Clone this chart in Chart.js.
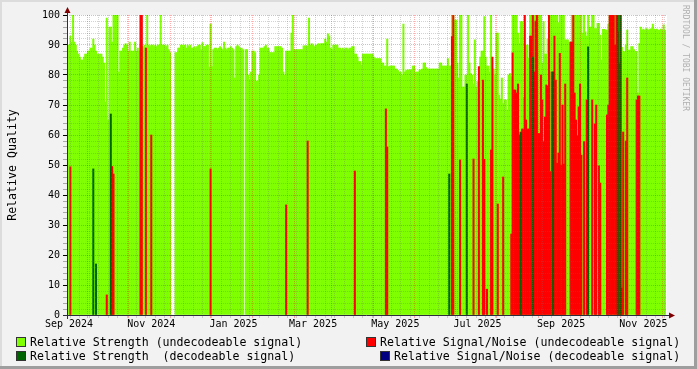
<!DOCTYPE html>
<html>
<head>
<meta charset="utf-8">
<script src="https://cdn.jsdelivr.net/npm/chart.js@4.4.1/dist/chart.umd.min.js"></script>
<style>
html, body { margin: 0; padding: 0; background: #f2f2f2; }
#wrap { position: relative; width: 697px; height: 369px; background: #f2f2f2; overflow: hidden;
  font-family: "DejaVu Sans Mono", monospace; color: #000; }
#wrap canvas { position: absolute; left: 0; top: 0; }
.edge { position: absolute; }
.lg { position: absolute; font-size: 11.6px; line-height: 14px; white-space: pre; }
.sw { position: absolute; width: 8px; height: 8px; border: 1px solid #333; }
#ytitle { position: absolute; left: -48px; top: 158px; width: 120px; height: 14px; font-size: 11.6px;
  line-height: 14px; text-align: center; transform: rotate(-90deg); }
#mark { position: absolute; left: 690px; top: 5px; font-size: 8px; line-height: 9px; color: #b0b0b0;
  white-space: pre; transform-origin: left top; transform: rotate(90deg); }
</style>
</head>
<body>
<div id="wrap">
  <canvas id="mycanvas" width="697" height="369"></canvas>
  <div class="edge" style="left:0;top:0;width:697px;height:2px;background:#dcdcdc"></div>
  <div class="edge" style="left:0;top:0;width:2px;height:369px;background:#dcdcdc"></div>
  <div class="edge" style="right:0;top:0;width:3px;height:369px;background:#9e9e9e"></div>
  <div class="edge" style="left:0;bottom:0;width:697px;height:3px;background:#9e9e9e"></div>
  <div id="ytitle">Relative Quality</div>
  <div id="mark">RRDTOOL / TOBI OETIKER</div>
  <div id="legend"></div>
</div>
<script>
// one value per day, first bar = 31 Aug 2024
var strength = [
  90,90,93,91,100,91,90,88,87,86,
  85,85,86,87,87,88,88,89,89,92,
  90,88,87,87,87,87,86,84,71,99,
  65,96,96,91,100,100,100,100,81,88,
  88,89,90,90.5,90,88,91,88,88,88,
  91,88,89,88,90,89.5,89.5,90,89,100,
  90,89.5,90,90,89.5,90,89.5,90,90,100,
  90,90,90,89.5,90,88.5,87.5,null,null,null,
  87.5,87.5,89,89,90,90,89.5,90,89,90,
  89.5,90,89,89,89.5,89,89.5,90,90,88.5,
  90.8,89.5,89.5,90,90,82.6,97,82.8,88.5,89,
  89,88.5,89,89.5,89,88.5,91,89,88.5,89,
  89,89.5,89,88.5,79,89.5,90,89.5,89,89,
  88.5,null,88.5,88.5,80,78.3,81,88,88,87.5,
  78,78,80,89,89,89,89.5,90,89,89,
  87.5,87.5,87.5,87.5,89.5,89.5,89.5,89.5,89.5,89,
  81,80,88,88,88,88,94,100,88.5,88.5,
  88.5,88.5,88.5,88.5,88.5,89.7,89.7,89.7,89.7,99,
  90,90.5,90,89.5,90,90,90.5,90,90.5,90.5,
  90.5,92,91,93.7,93,89,88.5,90,90,90,
  90,89,89,88.5,89,88.5,89,89,88.5,89,
  89,89.5,89.5,87,87,86,84.5,84.5,83.3,87,
  87,87,87,87,87,87,87,86,85.5,85.5,
  85.5,85.5,85.5,84,84,83,83,92,82.8,83,
  83,83,83,82,82,81.5,81,81,80,97,
  81,81.5,81.7,81.7,81.7,81.7,83,83,81,81,
  81,81.7,81.7,82,84,84,82.5,82,82,82,
  82,82,82,82,82,82,84,84,83,83,
  83,83,85.5,83,83,100,100,98.3,98.3,84,
  79,100,100,76,76,80,80,100,84,80.5,
  80,77,91.7,76,77.8,78,86,88,88,99.5,
  86,83,83,81,100,82,82,80,94,94,
  73.3,72,79,70.5,71.7,71.7,68.3,80,80.5,79.4,
  100,100,100,100,94,90.5,97.8,97.8,72.5,100,
  90,90,85.6,100,100,100,100,100,100,100,
  100,100,84,97.8,87,87,92,100,100,100,
  100,100,100,100,97.5,100,100,100,100,91.7,
  91.7,91.7,91,91,100,100,100,100,100,100,
  100,100,94,100,94.4,93,100,96,96,100,
  100,95.5,95.5,97.2,97.2,93.3,85,95.2,95.2,95,
  95,97,100,100,100,100,100,100,100,100,
  100,89.2,87.8,87.8,90,95,88.3,88.3,89.5,89.5,
  88.5,87.8,87.8,74,90.5,96,95,95.3,95,95.5,
  95.3,95,95.3,95.5,97,95.3,95,95.3,95,95,
  95.3,95,96.7,95,null
];

// signal/noise (undecodeable): day index -> value
var snrDays = [2,29,33,34,54,55,58,62,106,162,178,213,236,237,285,286,291,301,305,308,309,311,314,315,319,323,
  329,330,331,332,333,334,335,336,337,338,339,340,341,342,343,344,345,346,347,348,349,350,351,352,353,354,355,356,
  357,358,359,360,361,362,363,364,365,366,367,368,369,373,374,375,376,377,378,379,380,381,383,385,389,391,392,
  394,395,400,401,402,403,404,405,406,407,408,409,410,411,412,414,415,422,423,424];
var snrValues = [49.4,6.7,49.5,47,100,100,89,60,48.7,36.7,58,48,68.7,56,92.8,100,51.7,52,82.8,78.3,51.9,8.6,55,86,37,46,
  27,87.4,75,75,74,77,60,61,62,62,100,65,62,62,93,93,100,81,98,100,60.5,60.5,80,71.7,57.8,66,76.7,76.3,
  100,47.8,81,81,93,78.3,50.6,54,87.2,50,70,50.3,77,91,91,100,74,65,59.7,69.4,77,53.3,57.8,71.7,71.7,63.7,70,
  49.7,44,66.7,70,100,100,100,100,90,100,94.4,84,100,9,61,58,79,71.7,73,73];

// strength (decodeable)
var decDays = [19,21,32,283,296,336,345,360,386,408,410];
var decValues = [48.7,17,67,47,77,60.8,86,81,89.4,100,100];

// signal/noise (decodeable) - nothing visible
var decSnrDays = [];
var decSnrValues = [];

var tickDays = [1,62,123,182,243,304,366,427];
var tickLabels = ['Sep 2024','Nov 2024','Jan 2025','Mar 2025','May 2025','Jul 2025','Sep 2025','Nov 2025'];
var majorGridDays = [15,45,76,106,137,168,196,227,257,288,318,349,380,410,441];

var seriesNames = ['Relative Strength (undecodeable signal)', 'Relative Signal/Noise (undecodeable signal)',
  'Relative Strength  (decodeable signal)', 'Relative Signal/Noise (decodeable signal)'];
var seriesColors = ['#7fff00', '#ff0000', '#006400', '#000080'];

function spread(days, values) {
  var out = [];
  for (var i = 0; i < strength.length; i++) out.push(null);
  for (var k = 0; k < days.length; k++) out[days[k]] = values[k];
  return out;
}

var labels = [];
for (var i = 0; i < strength.length; i++) labels.push(String(i));

var MAJOR = 'rgba(255,0,0,0.32)';
var MINOR = 'rgba(110,110,110,0.3)';

function xGridColor(ctx) {
  if (majorGridDays.indexOf(ctx.index) >= 0) return MAJOR;
  if ((ctx.index - 2) % 7 === 0) return MINOR;
  return 'rgba(0,0,0,0)';
}

var frame = {
  id: 'frame',
  beforeDraw: function(chart) {
    var a = chart.chartArea, c = chart.ctx;
    c.save();
    c.fillStyle = '#ffffff';
    c.fillRect(a.left, a.top, a.right - a.left, a.bottom - a.top);
    c.restore();
  },
  afterDraw: function(chart) {
    var a = chart.chartArea, c = chart.ctx;
    c.save();
    c.strokeStyle = '#2c2c3c';
    c.lineWidth = 1;
    c.beginPath();
    c.moveTo(a.left - 4, a.bottom + 0.5);
    c.lineTo(a.right + 3, a.bottom + 0.5);
    c.moveTo(a.left + 0.5, a.bottom + 4);
    c.lineTo(a.left + 0.5, a.top - 3);
    c.stroke();
    c.fillStyle = '#7f0000';
    c.beginPath();
    c.moveTo(a.right + 2, a.bottom - 2.5);
    c.lineTo(a.right + 8, a.bottom + 0.5);
    c.lineTo(a.right + 2, a.bottom + 3.5);
    c.closePath();
    c.fill();
    c.beginPath();
    c.moveTo(a.left - 2.5, a.top - 2);
    c.lineTo(a.left + 0.5, a.top - 8);
    c.lineTo(a.left + 3.5, a.top - 2);
    c.closePath();
    c.fill();
    c.restore();
  }
};

Chart.defaults.font.family = '"DejaVu Sans Mono", monospace';
Chart.defaults.color = '#000';

var allData = [strength, spread(snrDays, snrValues), spread(decDays, decValues), spread(decSnrDays, decSnrValues)];
var datasets = [];
for (var s = 0; s < 4; s++) {
  datasets.push({
    label: seriesNames[s],
    data: allData[s],
    backgroundColor: seriesColors[s],
    borderWidth: 0,
    barPercentage: 1,
    categoryPercentage: 1,
    grouped: false,
    order: 4 - s
  });
}

var ctx = document.getElementById('mycanvas');
var chart = new Chart(ctx, {
  type: 'bar',
  data: { labels: labels, datasets: datasets },
  plugins: [frame],
  options: {
    responsive: false,
    animation: false,
    devicePixelRatio: 1,
    events: [],
    layout: { padding: { left: 0, right: 30, top: 15, bottom: 39 } },
    plugins: { legend: { display: false }, tooltip: { enabled: false } },
    scales: {
      x: {
        type: 'category',
        grid: { offset: false, z: 1, color: xGridColor, tickColor: xGridColor, tickLength: 3 },
        border: { display: false, dash: [1, 1] },
        ticks: {
          autoSkip: false, maxRotation: 0, minRotation: 0, padding: 0,
          font: { size: 10 }, color: '#000',
          callback: function(v, i) {
            var k = tickDays.indexOf(i);
            return k >= 0 ? tickLabels[k] : '';
          }
        },
        afterFit: function(scale) { scale.height = 15; }
      },
      y: {
        min: 0, max: 100,
        grid: {
          z: 1, tickLength: 4,
          color: function(c) { return c.tick.value % 10 === 0 ? MAJOR : MINOR; },
          tickColor: function(c) { return c.tick.value % 10 === 0 ? '#000' : 'rgba(0,0,0,0.3)'; }
        },
        border: { display: false, dash: [1, 1] },
        ticks: {
          stepSize: 2, autoSkip: false, padding: 3, font: { size: 10 }, color: '#000',
          callback: function(v) { return v % 10 === 0 ? v : ''; }
        },
        afterFit: function(scale) { scale.width = 67; }
      }
    }
  }
});

// legend in rrdtool layout
var legendPos = [[16, 30, 335], [366, 380, 335], [16, 30, 349], [380, 394, 349]];
var lg = document.getElementById('legend');
for (var j = 0; j < legendPos.length; j++) {
  var p = legendPos[j];
  var sw = document.createElement('div');
  sw.className = 'sw';
  sw.style.left = p[0] + 'px';
  sw.style.top = (p[2] + 2) + 'px';
  sw.style.background = seriesColors[j];
  lg.appendChild(sw);
  var t = document.createElement('div');
  t.className = 'lg';
  t.style.left = p[1] + 'px';
  t.style.top = p[2] + 'px';
  t.textContent = seriesNames[j];
  lg.appendChild(t);
}
</script>
</body>
</html>
